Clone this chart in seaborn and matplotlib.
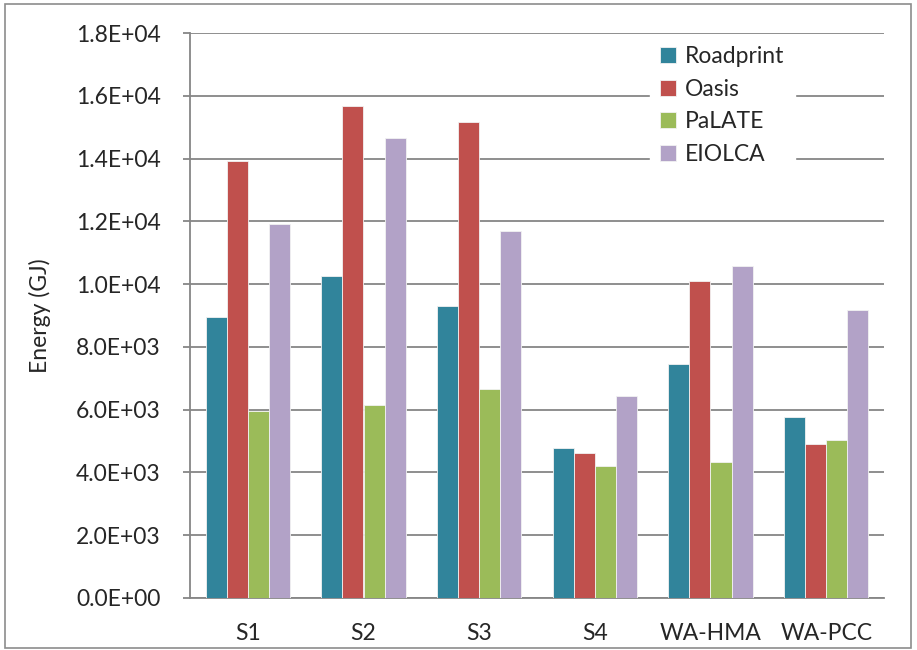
import pandas as pd
import seaborn as sns
import matplotlib.pyplot as plt
from matplotlib.patches import Rectangle
from matplotlib.ticker import FuncFormatter, MultipleLocator

# === data ===
scenarios = ["S1", "S2", "S3", "S4", "WA-HMA", "WA-PCC"]
tools = ["Roadprint", "Oasis", "PaLATE", "EIOLCA"]
roadprint = [8960, 10260, 9290, 4770, 7460, 5760]
oasis = [13910, 15690, 15150, 4620, 10090, 4920]
palate = [5970, 6150, 6650, 4210, 4340, 5030]
eiolca = [11920, 14660, 11700, 6450, 10590, 9180]
colors = ["#31849B", "#C0504D", "#9BBB59", "#B2A2C7"]

rows = []
for tool, vals in zip(tools, [roadprint, oasis, palate, eiolca]):
    for sc, v in zip(scenarios, vals):
        rows.append({"Scenario": sc, "Tool": tool, "Energy": v})
df = pd.DataFrame(rows)

# === plot ===
sns.set_style("white")
plt.rcParams["font.family"] = ["Lato", "DejaVu Sans"]

fig = plt.figure(figsize=(9.17, 6.5), dpi=100)
ax = fig.add_axes([190 / 917, 52 / 650, 694 / 917, 565 / 650])

sns.barplot(
    data=df, x="Scenario", y="Energy", hue="Tool",
    order=scenarios, hue_order=tools, palette=colors,
    width=0.73, gap=0, errorbar=None, saturation=1,
    edgecolor="#f2f2f2", linewidth=0.6, ax=ax, zorder=3
)

grid_c = "#868686"
fs = 16.5
ax.set_ylim(0, 18000)
ax.yaxis.set_major_locator(MultipleLocator(2000))
ax.yaxis.set_major_formatter(FuncFormatter(lambda v, p: f"{v:.1E}"))
ax.grid(axis="y", color=grid_c, linewidth=1.3, zorder=0)
ax.set_axisbelow(True)

for side in ["top", "right"]:
    ax.spines[side].set_visible(False)
for side in ["left", "bottom"]:
    ax.spines[side].set_color(grid_c)
    ax.spines[side].set_linewidth(1.3)

ax.tick_params(axis="y", length=5, width=1.3, color=grid_c, labelsize=fs,
               pad=16, direction="out", left=True)
ax.tick_params(axis="x", length=0, labelsize=fs, pad=18)
ax.set_xlabel("")
ax.set_ylabel("Energy (GJ)", fontsize=fs, labelpad=18)

leg = ax.legend(
    loc="upper left", bbox_to_anchor=(650 / 917, 1 - 36 / 650),
    bbox_transform=fig.transFigure, frameon=True, fontsize=fs,
    handlelength=0.68, handleheight=0.68, handletextpad=0.4,
    labelspacing=0.5, borderpad=0.45, borderaxespad=0
)
leg.get_frame().set_facecolor("white")
leg.get_frame().set_edgecolor("white")
leg.get_frame().set_alpha(1)
leg.get_frame().set_boxstyle("square", pad=0.0)

# outer chart border
fig.patches.append(Rectangle((5 / 917, 2 / 650), 906 / 917, 644 / 650,
                             transform=fig.transFigure, fill=False,
                             edgecolor="#8c8c8c", linewidth=1.2))

fig.savefig("out.png", dpi=100)
